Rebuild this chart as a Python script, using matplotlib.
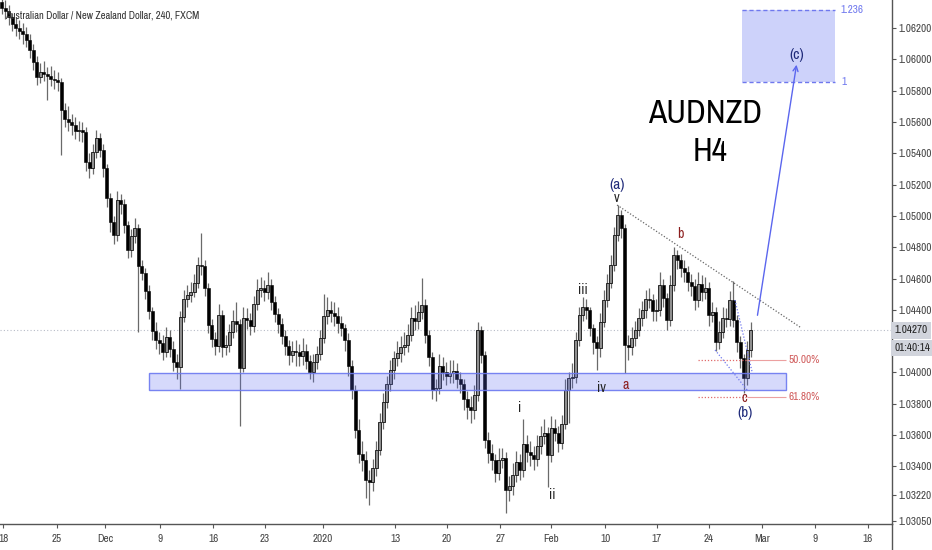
import numpy as np
import matplotlib
matplotlib.use("Agg")
import matplotlib.pyplot as plt
from matplotlib import font_manager as fm
from matplotlib.patches import Rectangle, FancyArrowPatch
from matplotlib.lines import Line2D

# TradingView uses a narrow face; take a narrow/condensed one if installed
_entries = fm.fontManager.ttflist
_narrow = sorted({f.name for f in _entries if "Narrow" in f.name or "Condensed" in f.name})
_cond = sorted({f.name for f in _entries if str(f.stretch) in ("condensed", "semi-condensed", "extra-condensed")})
if _narrow:
    FONT, STRETCH, NARROW = _narrow[0], "normal", True
elif _cond:
    FONT, STRETCH, NARROW = _cond[0], "condensed", True
else:
    FONT, STRETCH, NARROW = "Liberation Sans", "normal", False
plt.rcParams['font.family'] = [FONT, 'DejaVu Sans']
plt.rcParams['font.stretch'] = STRETCH

# AUDNZD candles, open = previous close
first_open = 1.06370
closes = [
    1.06329, 1.06310, 1.06271, 1.06227, 1.06201, 1.06182, 1.06163, 1.06124, 1.06060, 1.05984,
    1.05888, 1.05920, 1.05907, 1.05894, 1.05875, 1.05869, 1.05856, 1.05677, 1.05620, 1.05600,
    1.05581, 1.05543, 1.05549, 1.05537, 1.05345, 1.05306, 1.05409, 1.05498, 1.05421, 1.05306,
    1.05115, 1.04961, 1.04878, 1.05102, 1.05076, 1.04942, 1.04782, 1.04872, 1.04923, 1.04680,
    1.04636, 1.04521, 1.04393, 1.04265, 1.04207, 1.04188, 1.04131, 1.04227, 1.04150, 1.04067,
    1.04035, 1.04354, 1.04469, 1.04495, 1.04514, 1.04572, 1.04687, 1.04680, 1.04540, 1.04303,
    1.04214, 1.04169, 1.04367, 1.04163, 1.04175, 1.04259, 1.04329, 1.04310, 1.04028, 1.04348,
    1.04335, 1.04297, 1.04437, 1.04527, 1.04540, 1.04514, 1.04559, 1.04450, 1.04374, 1.04310,
    1.04233, 1.04169, 1.04112, 1.04137, 1.04131, 1.04105, 1.04137, 1.04073, 1.04003, 1.04067,
    1.04118, 1.04220, 1.04361, 1.04399, 1.04380, 1.04361, 1.04316, 1.04284, 1.04207, 1.04041,
    1.03888, 1.03632, 1.03479, 1.03441, 1.03313, 1.03300, 1.03389, 1.03504, 1.03683, 1.03811,
    1.03926, 1.04016, 1.04092, 1.04124, 1.04163, 1.04175, 1.04239, 1.04348, 1.04329, 1.04386,
    1.04431, 1.04239, 1.04099, 1.03888, 1.03901, 1.04041, 1.04003, 1.03977, 1.03997, 1.04009,
    1.03958, 1.03926, 1.03830, 1.03779, 1.03760, 1.03856, 1.04271, 1.04112, 1.03568, 1.03485,
    1.03441, 1.03358, 1.03441, 1.03453, 1.03249, 1.03274, 1.03345, 1.03428, 1.03377, 1.03543,
    1.03492, 1.03473, 1.03447, 1.03530, 1.03594, 1.03613, 1.03473, 1.03645, 1.03613, 1.03549,
    1.03671, 1.03888, 1.03965, 1.03971, 1.04207, 1.04367, 1.04418, 1.04399, 1.04284, 1.04195,
    1.04156, 1.04322, 1.04463, 1.04572, 1.04687, 1.04878, 1.05006, 1.04923, 1.04175, 1.04163,
    1.04220, 1.04271, 1.04348, 1.04399, 1.04469, 1.04463, 1.04393, 1.04399, 1.04559, 1.04476,
    1.04335, 1.04559, 1.04751, 1.04719, 1.04667, 1.04642, 1.04578, 1.04552, 1.04463, 1.04565,
    1.04514, 1.04540, 1.04367, 1.04386, 1.04195, 1.04259, 1.04348, 1.04342, 1.04463, 1.04335,
    1.04195, 1.04092, 1.03965, 1.04143, 1.04270,
]
highs = [
    1.06420, 1.06380, 1.06350, 1.06300, 1.06270, 1.06250, 1.06230, 1.06210, 1.06160, 1.06100,
    1.06020, 1.05980, 1.05990, 1.05950, 1.05960, 1.05930, 1.05920, 1.05880, 1.05720, 1.05700,
    1.05650, 1.05630, 1.05610, 1.05600, 1.05570, 1.05400, 1.05460, 1.05550, 1.05530, 1.05460,
    1.05330, 1.05150, 1.05000, 1.05160, 1.05140, 1.05110, 1.04970, 1.04920, 1.04990, 1.04950,
    1.04720, 1.04670, 1.04560, 1.04420, 1.04320, 1.04260, 1.04240, 1.04290, 1.04270, 1.04200,
    1.04120, 1.04390, 1.04530, 1.04560, 1.04580, 1.04630, 1.04740, 1.04891, 1.04720, 1.04570,
    1.04340, 1.04260, 1.04440, 1.04400, 1.04240, 1.04310, 1.04400, 1.04450, 1.04340, 1.04420,
    1.04410, 1.04380, 1.04490, 1.04600, 1.04610, 1.04590, 1.04640, 1.04600, 1.04490, 1.04410,
    1.04350, 1.04270, 1.04210, 1.04200, 1.04210, 1.04180, 1.04220, 1.04180, 1.04110, 1.04120,
    1.04170, 1.04270, 1.04500, 1.04480, 1.04460, 1.04450, 1.04420, 1.04360, 1.04310, 1.04250,
    1.04080, 1.03920, 1.03700, 1.03560, 1.03500, 1.03380, 1.03450, 1.03560, 1.03740, 1.03870,
    1.03980, 1.04080, 1.04140, 1.04200, 1.04230, 1.04260, 1.04310, 1.04420, 1.04430, 1.04460,
    1.04604, 1.04470, 1.04270, 1.04130, 1.03960, 1.04120, 1.04100, 1.04070, 1.04080, 1.04080,
    1.04060, 1.04000, 1.03960, 1.03880, 1.03850, 1.03920, 1.04322, 1.04300, 1.04140, 1.03620,
    1.03540, 1.03480, 1.03520, 1.03520, 1.03490, 1.03340, 1.03420, 1.03500, 1.03480, 1.03700,
    1.03600, 1.03560, 1.03530, 1.03600, 1.03660, 1.03700, 1.03650, 1.03720, 1.03700, 1.03660,
    1.03730, 1.03960, 1.04000, 1.04060, 1.04260, 1.04420, 1.04480, 1.04470, 1.04420, 1.04310,
    1.04230, 1.04380, 1.04530, 1.04630, 1.04750, 1.04930, 1.05070, 1.05040, 1.04950, 1.04240,
    1.04290, 1.04330, 1.04410, 1.04460, 1.04530, 1.04540, 1.04500, 1.04470, 1.04640, 1.04600,
    1.04510, 1.04620, 1.04800, 1.04780, 1.04760, 1.04720, 1.04680, 1.04630, 1.04600, 1.04640,
    1.04620, 1.04610, 1.04580, 1.04450, 1.04420, 1.04330, 1.04420, 1.04410, 1.04520, 1.04584,
    1.04370, 1.04230, 1.04120, 1.04200, 1.04320,
]
lows = [
    1.06290, 1.06260, 1.06220, 1.06180, 1.06150, 1.06130, 1.06100, 1.06080, 1.06010, 1.05930,
    1.05840, 1.05850, 1.05860, 1.05740, 1.05830, 1.05810, 1.05800, 1.05390, 1.05570, 1.05540,
    1.05520, 1.05490, 1.05480, 1.05470, 1.05290, 1.05240, 1.05270, 1.05370, 1.05380, 1.05250,
    1.05060, 1.04900, 1.04820, 1.04840, 1.05010, 1.04890, 1.04730, 1.04740, 1.04830, 1.04260,
    1.04590, 1.04470, 1.04340, 1.04210, 1.04150, 1.04120, 1.04080, 1.04100, 1.04100, 1.04010,
    1.03960, 1.03894, 1.04320, 1.04420, 1.04450, 1.04480, 1.04540, 1.04620, 1.04490, 1.04250,
    1.04160, 1.04110, 1.04130, 1.04100, 1.04110, 1.04130, 1.04220, 1.04260, 1.03658, 1.04000,
    1.04280, 1.04240, 1.04260, 1.04400, 1.04480, 1.04460, 1.04470, 1.04400, 1.04320, 1.04250,
    1.04180, 1.04110, 1.04050, 1.04070, 1.04040, 1.04040, 1.04050, 1.04020, 1.03960, 1.03940,
    1.04020, 1.04080, 1.04190, 1.04310, 1.04320, 1.04300, 1.04250, 1.04230, 1.04140, 1.03980,
    1.03830, 1.03580, 1.03420, 1.03370, 1.03200, 1.03153, 1.03240, 1.03340, 1.03470, 1.03640,
    1.03770, 1.03880, 1.03960, 1.04040, 1.04070, 1.04110, 1.04130, 1.04200, 1.04270, 1.04280,
    1.04340, 1.04190, 1.04040, 1.03830, 1.03820, 1.03860, 1.03950, 1.03920, 1.03930, 1.03930,
    1.03900, 1.03870, 1.03760, 1.03700, 1.03677, 1.03700, 1.03820, 1.04060, 1.03520, 1.03420,
    1.03380, 1.03300, 1.03310, 1.03390, 1.03102, 1.03180, 1.03220, 1.03300, 1.03310, 1.03330,
    1.03430, 1.03400, 1.03380, 1.03400, 1.03480, 1.03540, 1.03268, 1.03430, 1.03560, 1.03490,
    1.03510, 1.03640, 1.03677, 1.03900, 1.03930, 1.04170, 1.04330, 1.04340, 1.04230, 1.04120,
    1.04016, 1.04100, 1.04290, 1.04420, 1.04540, 1.04650, 1.04840, 1.04860, 1.03997, 1.04080,
    1.04110, 1.04170, 1.04230, 1.04300, 1.04350, 1.04410, 1.04330, 1.04330, 1.04360, 1.04420,
    1.04270, 1.04300, 1.04520, 1.04660, 1.04610, 1.04580, 1.04520, 1.04490, 1.04400, 1.04420,
    1.04460, 1.04470, 1.04300, 1.04320, 1.04140, 1.04150, 1.04220, 1.04290, 1.04300, 1.04290,
    1.04130, 1.04030, 1.03869, 1.03920, 1.04100,
]

# date ticks (bar positions) and labels
date_pos = [0.4, 15.8, 29.5, 45.2, 60.4, 75.2, 91.8, 112.4, 127.2, 142.4,
            156.9, 172.4, 187.2, 202.1, 217.2, 232.4, 247.5]
date_labels = ["18", "25", "Dec", "9", "16", "23", "2020", "13", "20", "27",
               "Feb", "10", "17", "24", "Mar", "9", "16"]
price_ticks = [1.0305, 1.0322, 1.034, 1.036, 1.038, 1.040, 1.044, 1.046, 1.048,
               1.050, 1.052, 1.054, 1.056, 1.058, 1.060, 1.062]
last_price = 1.04270
countdown = "01:40:14"

# drawings
zone_lo, zone_hi = 1.03887, 1.03996
zone_x = (42.1, 224.1)
target_lo, target_hi = 1.05855, 1.06315
target_x = (211.5, 238.1)
fib_levels = [(1.04079, "50.00%"), (1.03842, "61.80%")]
trend_x, trend_y = [175.8, 228.1], [1.05070, 1.04290]
wedge_a = ([209.5, 214.4], [1.04463, 1.04003])
wedge_b = ([203.8, 213.2], [1.04144, 1.03882])
arrow_from, arrow_to = (215.8, 1.04348), (227.2, 1.05984)
waves = [  # (x, y, text, colour, size, bold)
    (175.8, 1.05198, "(a)", "#1f2a7a", 11, False),
    (175.8, 1.05115, "v", "#222222", 10, False),
    (212.4, 1.03741, "(b)", "#1f2a7a", 11, False),
    (227.2, 1.06029, "(c)", "#1f2a7a", 11, True),
    (212.2, 1.03837, "c", "#8b1d1d", 10, False),
    (178.4, 1.03920, "a", "#8b1d1d", 10, False),
    (193.8, 1.04885, "b", "#8b1d1d", 10, False),
    (166.1, 1.04527, "iii", "#222222", 10, False),
    (171.5, 1.03901, "iv", "#222222", 10, False),
    (148.1, 1.03773, "i", "#222222", 10, False),
    (157.2, 1.03217, "ii", "#222222", 10, False),
]

big = 24 if NARROW else 20
small = 8 if NARROW else 6.4
title_fs = 7.6 if NARROW else 6.2

c = np.array(closes)
o = np.array([first_open] + closes[:-1])
h = np.array(highs)
l = np.array(lows)
x = np.arange(len(c))
up = c >= o

fig = plt.figure(figsize=(9.32, 5.5), dpi=100)
ax = fig.add_axes([0, 26 / 550, 892 / 932, 524 / 550])
ax.set_xlim(-0.5, 254.36)
ax.set_ylim(1.03032, 1.06380)

# current price line
ax.axhline(last_price, color="#b8bcc8", lw=0.8, ls=(0, (1, 2)), zorder=1)

# support zone, semi transparent over the candles
ax.add_patch(Rectangle((zone_x[0], zone_lo), zone_x[1] - zone_x[0], zone_hi - zone_lo,
                       facecolor=(0.36, 0.42, 0.94, 0.25), edgecolor=(0.42, 0.47, 0.94, 0.9),
                       lw=1, zorder=4))

# candles
ax.vlines(x, l, h, color="#6a6a6a", lw=0.9, zorder=2)
ax.bar(x[up], (c - o)[up], bottom=o[up], width=0.72, color="#8f8f8f",
       edgecolor="#111111", lw=0.6, zorder=3)
ax.bar(x[~up], (o - c)[~up], bottom=c[~up], width=0.72, color="black",
       edgecolor="black", lw=0.4, zorder=3)

# target box
ax.add_patch(Rectangle((target_x[0], target_lo), target_x[1] - target_x[0], target_hi - target_lo,
                       facecolor=(0.36, 0.42, 0.94, 0.3), lw=0, zorder=2))
for lvl in (target_lo, target_hi):
    ax.hlines(lvl, target_x[0], target_x[1], colors="#6f78ee", lw=1, ls=(0, (3, 2)), zorder=3)
ax.text(239.6, target_hi, "1.236", color="#6f78ee", fontsize=small, va="center", ha="left")
ax.text(239.8, target_lo, "1", color="#6f78ee", fontsize=small, va="center", ha="left")

# fib retracement levels
for lvl, lab in fib_levels:
    ax.hlines(lvl, 198.9, 213.0, colors="#e06b6b", lw=0.9, ls=(0, (1, 1.5)), zorder=5)
    ax.hlines(lvl, 213.0, 224.1, colors="#eca0a0", lw=0.8, zorder=5)
    ax.text(224.7, lvl, lab, color="#d05a5a", fontsize=small, va="center", ha="left")

# trend line and wedge
ax.plot(trend_x, trend_y, color="#666666", lw=0.9, ls=(0, (1, 1.5)), zorder=5)
ax.plot(*wedge_a, color="#6f78ee", lw=0.9, ls=(0, (1, 1.5)), zorder=5)
ax.plot(*wedge_b, color="#6f78ee", lw=0.9, ls=(0, (1, 1.5)), zorder=5)

ax.add_patch(FancyArrowPatch(arrow_from, arrow_to, arrowstyle="->", mutation_scale=9,
                             color="#5b66ee", lw=1, zorder=6))

for wx, wy, txt, col, fs, bold in waves:
    ax.text(wx, wy, txt, color=col, fontsize=fs, ha="center", va="center",
            fontweight="bold" if bold else "normal", zorder=7)

ax.text(201.0, 1.05652, "AUDNZD", fontsize=big, color="black", ha="center", va="center")
ax.text(202.4, 1.05409, "H4", fontsize=big, color="black", ha="center", va="center")

# axes styling
for side in ("left", "top"):
    ax.spines[side].set_visible(False)
for side in ("right", "bottom"):
    ax.spines[side].set_color("#555555")
    ax.spines[side].set_linewidth(1)
ax.yaxis.tick_right()
ax.set_yticks(price_ticks)
ax.set_yticklabels([f"{v:.5f}" for v in price_ticks])
ax.set_xticks(date_pos)
ax.set_xticklabels(date_labels)
ax.tick_params(axis="both", direction="out", length=3, width=0.8, color="#555555",
               labelsize=small, labelcolor="#444444")
ax.tick_params(axis="y", pad=2)
ax.tick_params(axis="x", pad=4)
fig.add_artist(Line2D([892 / 932] * 2, [0, 26 / 550], transform=fig.transFigure,
                      color="#555555", lw=1))

ytr = ax.get_yaxis_transform()
for dy, txt in ((0.0, f"{last_price:.5f}"), (-0.00113, countdown)):
    ax.text(1.003, last_price + dy, txt, transform=ytr, fontsize=small, color="#222222",
            va="center", ha="left", clip_on=False,
            bbox=dict(boxstyle="square,pad=0.3", facecolor="#d1d4dc", edgecolor="none"))

fig.text(5 / 932, 1 - 15 / 550, "Australian Dollar / New Zealand Dollar, 240, FXCM",
         fontsize=title_fs, color="#333333", va="center", ha="left")

fig.savefig("out.png", dpi=100)
